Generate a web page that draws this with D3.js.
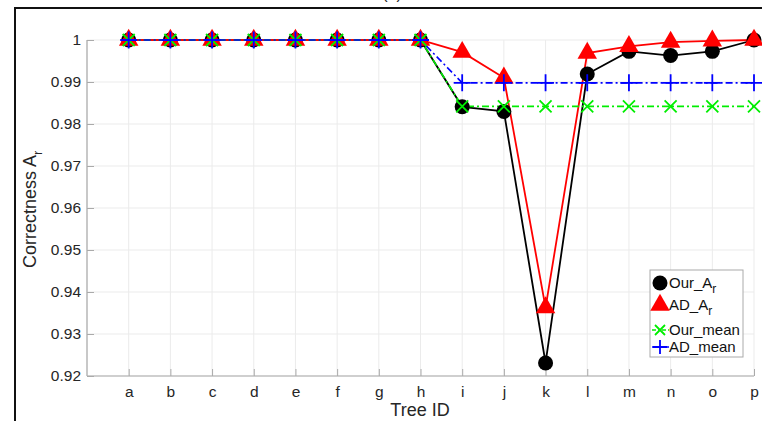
<!DOCTYPE html>
<html><head><meta charset="utf-8">
<script src="https://cdn.jsdelivr.net/npm/d3@7"></script>
<style>body{margin:0;background:#fff;} svg{display:block;font-family:"Liberation Sans",Arial,sans-serif;}</style>
</head><body>
<svg id="chart" width="762" height="421"></svg>
<script>
const categories = ["a","b","c","d","e","f","g","h","i","j","k","l","m","n","o","p"];
const ourAr   = [1,1,1,1,1,1,1,1,0.9841,0.9830,0.9231,0.9919,0.9973,0.9963,0.9973,1];
const adAr    = [1,1,1,1,1,1,1,1,0.9971,0.9910,0.9363,0.9969,0.9985,0.9995,0.9998,1];
const ourMean = [1,1,1,1,1,1,1,1,0.9842,0.9842,0.9842,0.9842,0.9842,0.9842,0.9842,0.9842];
const adMean  = [1,1,1,1,1,1,1,1,0.9898,0.9898,0.9898,0.9898,0.9898,0.9898,0.9898,0.9898];
const yTicks  = [0.92,0.93,0.94,0.95,0.96,0.97,0.98,0.99,1];
const yTickLabels = ["0.92","0.93","0.94","0.95","0.96","0.97","0.98","0.99","1"];

const FONT = "Liberation Sans, Arial, sans-serif";
const svg = d3.select("#chart");
const x = d3.scaleLinear().domain([0,16]).range([87,754]);
const y = d3.scaleLinear().domain([0.92,1]).range([376,40]);
const xi = i => x(i+1);

// outer frame
svg.append("line").attr("x1",15).attr("x2",762).attr("y1",8).attr("y2",8).attr("stroke","#111").attr("stroke-width",2);
svg.append("line").attr("x1",15).attr("x2",15).attr("y1",7).attr("y2",421).attr("stroke","#111").attr("stroke-width",2);
svg.append("text").attr("x",392).attr("y",-1).attr("text-anchor","middle").attr("font-size",16).attr("fill","#222").text("(b)");

// grid
const g = svg.append("g");
g.selectAll(".vg").data(categories).enter().append("line")
  .attr("x1",(d,i)=>xi(i)).attr("x2",(d,i)=>xi(i)).attr("y1",y(1)).attr("y2",y(0.92))
  .attr("stroke","#ebebeb").attr("stroke-width",1);
g.selectAll(".hg").data(yTicks).enter().append("line")
  .attr("x1",x(0)).attr("x2",x(16)).attr("y1",d=>y(d)).attr("y2",d=>y(d))
  .attr("stroke","#ebebeb").attr("stroke-width",1);

// axes
const yAxis = d3.axisLeft(y).tickValues(yTicks).tickFormat((d,i)=>yTickLabels[i]).tickSize(-7).tickPadding(6);
const ya = svg.append("g").attr("transform",`translate(${x(0)},0)`).call(yAxis);
ya.attr("font-size",null).attr("font-family",null);
ya.select(".domain").attr("stroke","#c8c8c8").attr("stroke-width",2).attr("d",`M0,${y(1)}V${y(0.92)}`);
ya.selectAll(".tick line").attr("stroke","#aaa");
ya.selectAll(".tick text").style("font-size","15.5px").style("font-family",FONT).attr("fill","#262626");

const xAxis = d3.axisBottom(x).tickValues(d3.range(1,17)).tickFormat(d=>categories[d-1]).tickSize(-7).tickPadding(10);
const xa = svg.append("g").attr("transform",`translate(0,${y(0.92)})`).call(xAxis);
xa.attr("font-size",null).attr("font-family",null);
xa.select(".domain").attr("stroke","#aaa").attr("stroke-width",1.2).attr("d",`M${x(0)},0H${x(16)}`);
xa.selectAll(".tick line").attr("stroke","#aaa");
xa.selectAll(".tick text").style("font-size","15.5px").style("font-family",FONT).attr("fill","#262626");

// labels
svg.append("text").attr("x",420).attr("y",416).attr("text-anchor","middle").style("font-size","18px").attr("fill","#262626").text("Tree ID");
const yl = svg.append("text").attr("transform","translate(36,268) rotate(-90)").attr("text-anchor","start").style("font-size","18px").attr("fill","#262626");
yl.append("tspan").text("Correctness  A");
yl.append("tspan").style("font-size","13px").attr("dy",6).text("r");

// lines
const line = arr => d3.line().x((d,i)=>xi(i)).y(d=>y(d))(arr);
svg.append("path").attr("d",line(ourAr)).attr("fill","none").attr("stroke","#000").attr("stroke-width",1.8);
svg.append("path").attr("d",line(adAr)).attr("fill","none").attr("stroke","#ff0000").attr("stroke-width",1.8);
svg.append("path").attr("d",line(ourMean)).attr("fill","none").attr("stroke","#00ee00").attr("stroke-width",1.6).attr("stroke-dasharray","7,3,2,3");
svg.append("path").attr("d",line(adMean)).attr("fill","none").attr("stroke","#0000ff").attr("stroke-width",1.6).attr("stroke-dasharray","7,3,2,3");

// markers
const circ = d3.symbol().type(d3.symbolCircle).size(Math.PI*7.5*7.5);
const tri = d3.symbol().type(d3.symbolTriangle).size(165);
svg.selectAll(".c").data(ourAr).enter().append("path").attr("d",circ())
  .attr("transform",(d,i)=>`translate(${xi(i)},${y(d)})`).attr("fill","#000");
svg.selectAll(".t").data(adAr).enter().append("path").attr("d",tri())
  .attr("transform",(d,i)=>`translate(${xi(i)},${y(d)})`).attr("fill","#ff0000");
const xPath = s => `M${-s},${-s}L${s},${s}M${-s},${s}L${s},${-s}`;
const pPath = s => `M${-s},0H${s}M0,${-s}V${s}`;
svg.selectAll(".x").data(ourMean).enter().append("path").attr("d",xPath(6))
  .attr("transform",(d,i)=>`translate(${xi(i)},${y(d)})`).attr("stroke","#00ee00").attr("stroke-width",1.8).attr("fill","none");
svg.selectAll(".p").data(adMean).enter().append("path").attr("d",pPath(8.5))
  .attr("transform",(d,i)=>`translate(${xi(i)},${y(d)})`).attr("stroke","#0000ff").attr("stroke-width",1.8).attr("fill","none");

// legend
const lg = svg.append("g");
lg.append("rect").attr("x",650).attr("y",270).attr("width",93).attr("height",87).attr("fill","#fff").attr("stroke","#aaa").attr("stroke-width",1);
const items = [
  {name:"Our_A", sub:"r", y:283, type:"circle"},
  {name:"AD_A", sub:"r", y:305, type:"tri"},
  {name:"Our_mean", sub:"", y:330, type:"x"},
  {name:"AD_mean", sub:"", y:347, type:"plus"}
];
items.forEach(it=>{
  const mx = 660;
  if(it.type==="circle") lg.append("path").attr("d",circ()).attr("transform",`translate(${mx},${it.y})`).attr("fill","#000");
  if(it.type==="tri") lg.append("path").attr("d",tri()).attr("transform",`translate(${mx},${it.y})`).attr("fill","#ff0000");
  if(it.type==="x"){
    lg.append("line").attr("x1",652).attr("x2",669).attr("y1",it.y).attr("y2",it.y).attr("stroke","#00ee00").attr("stroke-width",1.5).attr("stroke-dasharray","4,2,2,2");
    lg.append("path").attr("d",xPath(5)).attr("transform",`translate(${mx},${it.y})`).attr("stroke","#00ee00").attr("stroke-width",1.8).attr("fill","none");
  }
  if(it.type==="plus"){
    lg.append("line").attr("x1",652).attr("x2",669).attr("y1",it.y).attr("y2",it.y).attr("stroke","#0000ff").attr("stroke-width",1.5);
    lg.append("path").attr("d",pPath(7)).attr("transform",`translate(${mx},${it.y})`).attr("stroke","#0000ff").attr("stroke-width",1.8).attr("fill","none");
  }
  const t = lg.append("text").attr("x",669).attr("y",it.y+5).style("font-size","15px").attr("fill","#111");
  t.append("tspan").text(it.name);
  if(it.sub) t.append("tspan").style("font-size","12px").attr("dy",5).text(it.sub);
});
</script>
</body></html>
